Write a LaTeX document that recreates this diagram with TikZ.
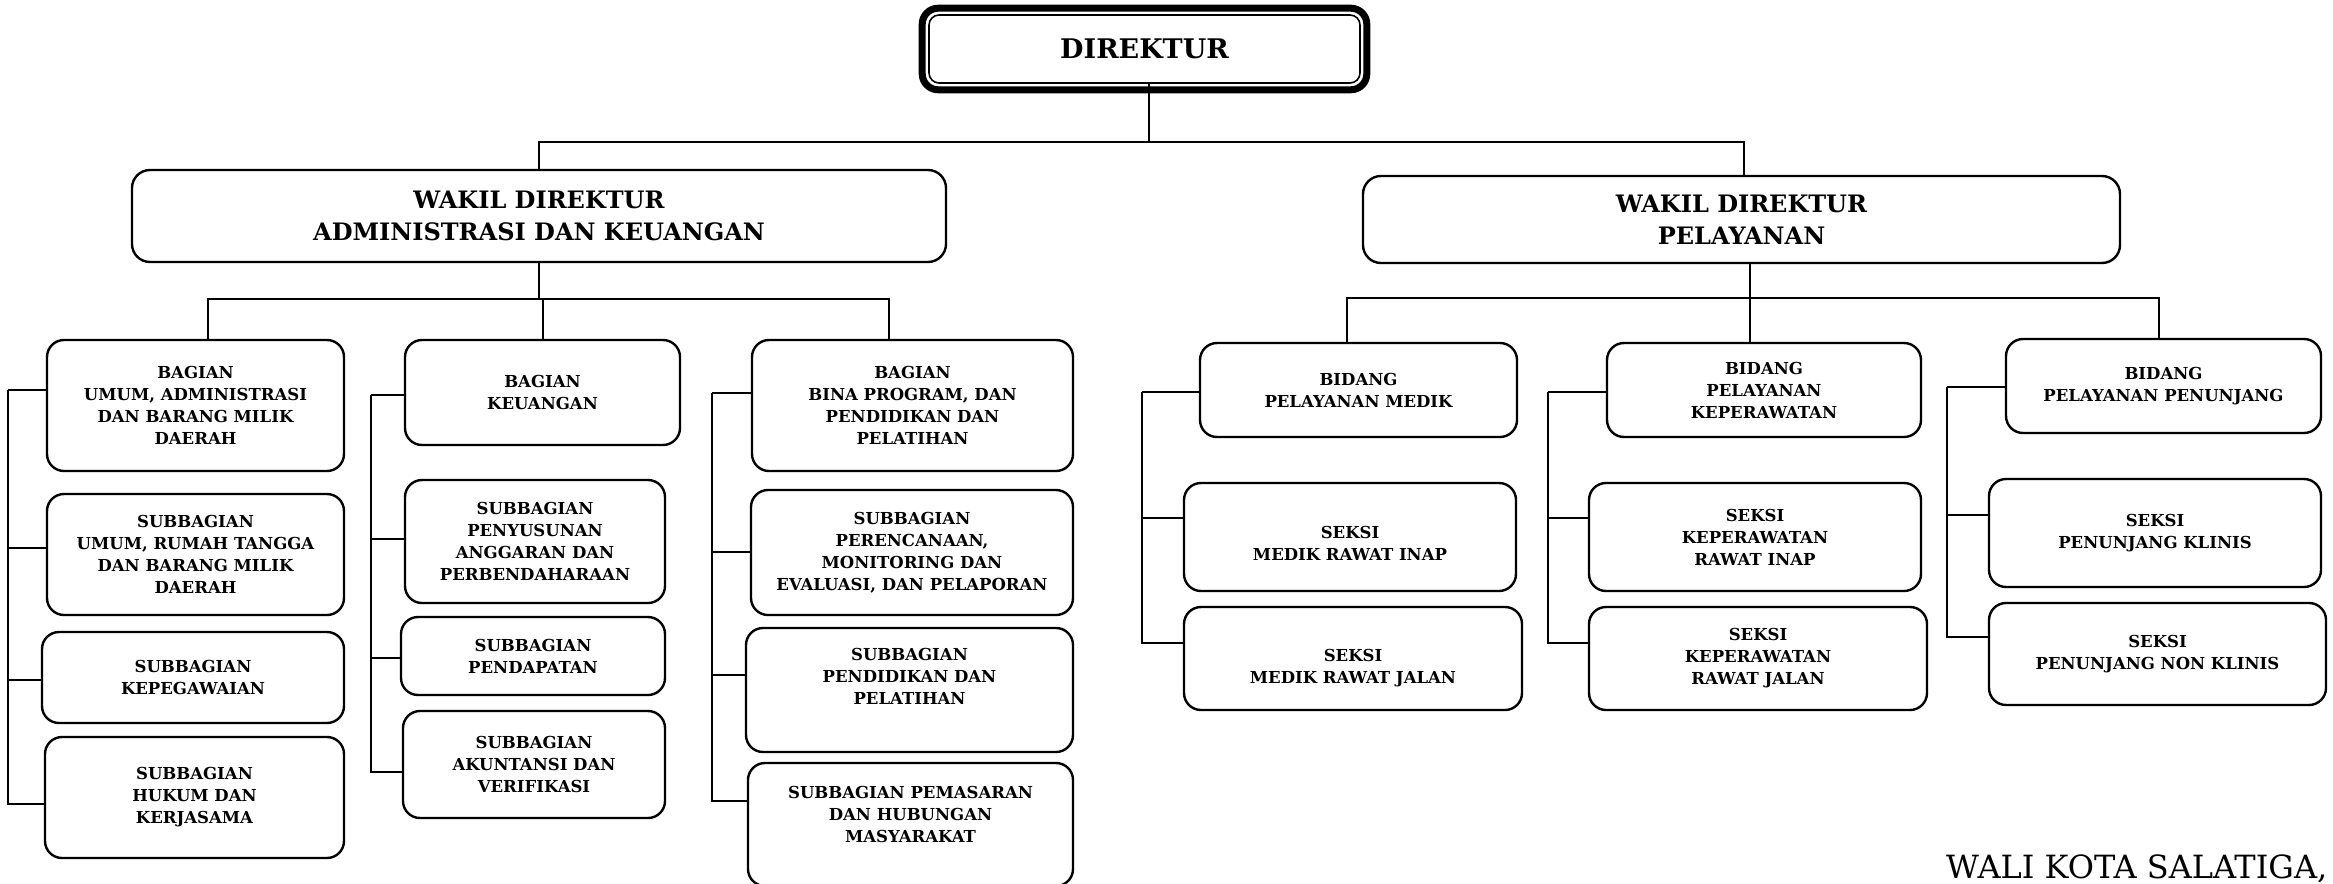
\documentclass[tikz,border=0pt]{standalone}
\usepackage{fontspec}
\setmainfont{DejaVu Serif}
\usepackage{tikz}
\usetikzlibrary{positioning,calc}

\begin{document}
\begin{tikzpicture}[x = 1pt, y = -1pt,
		unit/.style = {draw, line width = 2.4pt, rounded corners = 17pt, align = center, font = \fontsize{16.5}{22}\selectfont\bfseries},
		wakil/.style = {unit, rounded corners = 18pt, font = \fontsize{24}{32}\selectfont\bfseries},
		link/.style = {line width = 2pt}]
		\useasboundingbox (0,0) rectangle (2333,883);
		% pimpinan
		\node [unit, line width = 1.6pt, rounded corners = 10pt, minimum width = 431pt, minimum height = 68pt, font = \fontsize{27}{30}\selectfont\bfseries](direktur) at (1144.5,49) {DIREKTUR};
		\draw [line width = 7pt, rounded corners = 16pt] ([xshift = -6pt, yshift = 6pt]direktur.north west) rectangle ([xshift = 6pt, yshift = -6pt]direktur.south east);
		\node [wakil, minimum width = 814pt, minimum height = 92pt](wadm) at (539,216) {WAKIL DIREKTUR\\ADMINISTRASI DAN KEUANGAN};
		\node [wakil, minimum width = 757pt, minimum height = 87pt](wpel) at (1741.5,219.5) {WAKIL DIREKTUR\\PELAYANAN};
		% administrasi dan keuangan
		\node [unit, minimum width = 297pt, minimum height = 131pt](bumum) at (195.5,405.5) {BAGIAN\\UMUM, ADMINISTRASI\\DAN BARANG MILIK\\DAERAH};
		\node [unit, minimum width = 297pt, minimum height = 121pt](sumum) at (195.5,554.5) {SUBBAGIAN\\UMUM, RUMAH TANGGA\\DAN BARANG MILIK\\DAERAH};
		\node [unit, minimum width = 302pt, minimum height = 91pt](kepeg) at (193,677.5) {SUBBAGIAN\\KEPEGAWAIAN};
		\node [unit, minimum width = 299pt, minimum height = 121pt](hukum) at (194.5,797.5) {SUBBAGIAN\\HUKUM DAN\\KERJASAMA};
		\node [unit, minimum width = 275pt, minimum height = 105pt](keu) at (542.5,392.5) {BAGIAN\\KEUANGAN};
		\node [unit, minimum width = 260pt, minimum height = 123pt](penyus) at (535,541.5) {SUBBAGIAN\\PENYUSUNAN\\ANGGARAN DAN\\PERBENDAHARAAN};
		\node [unit, minimum width = 264pt, minimum height = 78pt](pendap) at (533,656) {SUBBAGIAN\\PENDAPATAN};
		\node [unit, minimum width = 262pt, minimum height = 107pt](akunt) at (534,764.5) {SUBBAGIAN\\AKUNTANSI DAN\\VERIFIKASI};
		\node [unit, minimum width = 321pt, minimum height = 131pt](bina) at (912.5,405.5) {BAGIAN\\BINA PROGRAM, DAN\\PENDIDIKAN DAN\\PELATIHAN};
		\node [unit, minimum width = 322pt, minimum height = 125pt](perenc) at (912,552.5) {SUBBAGIAN\\PERENCANAAN,\\MONITORING DAN\\EVALUASI, DAN PELAPORAN};
		\node [unit, minimum width = 327pt, minimum height = 124pt](pendid) at (909.5,690) {SUBBAGIAN\\PENDIDIKAN DAN\\PELATIHAN\\[5pt]~};
		\node [unit, minimum width = 325pt, minimum height = 123pt](pemas) at (910.5,824.5) {SUBBAGIAN PEMASARAN\\DAN HUBUNGAN\\MASYARAKAT\\[-1pt]~};
		% pelayanan
		\node [unit, minimum width = 317pt, minimum height = 94pt](medik) at (1358.5,390) {BIDANG\\PELAYANAN MEDIK};
		\node [unit, minimum width = 332pt, minimum height = 108pt](mrinap) at (1350,537) {~\\[2pt]SEKSI\\MEDIK RAWAT INAP};
		\node [unit, minimum width = 338pt, minimum height = 103pt](mrjalan) at (1353,658.5) {~\\[10pt]SEKSI\\MEDIK RAWAT JALAN};
		\node [unit, minimum width = 314pt, minimum height = 94pt](kep) at (1764,390) {BIDANG\\PELAYANAN\\KEPERAWATAN};
		\node [unit, minimum width = 332pt, minimum height = 108pt](krinap) at (1755,537) {SEKSI\\KEPERAWATAN\\RAWAT INAP};
		\node [unit, minimum width = 338pt, minimum height = 103pt](krjalan) at (1758,658.5) {SEKSI\\KEPERAWATAN\\RAWAT JALAN};
		\node [unit, minimum width = 315pt, minimum height = 94pt](penunj) at (2163.5,386) {BIDANG\\PELAYANAN PENUNJANG};
		\node [unit, minimum width = 332pt, minimum height = 108pt](klinis) at (2155,533) {SEKSI\\PENUNJANG KLINIS};
		\node [unit, minimum width = 337pt, minimum height = 102pt](nonklinis) at (2157.5,654) {SEKSI\\PENUNJANG NON KLINIS};
		\node [anchor = base west, inner sep = 0pt, font = \fontsize{32}{36}\selectfont](walikota) at (1946,878) {WALI KOTA SALATIGA,};
		% garis utama
		\draw [link] ([xshift = 4pt]direktur.south) -- ++(0,58) coordinate (bus);
		\draw [link] (bus) -| (wadm.north);
		\draw [link] (bus) -| ([xshift = 2pt]wpel.north);
		\draw [link] (wadm.south) -- ++(0,36) coordinate (busa);
		\draw [link] (busa) -| ([xshift = 12pt]bumum.north);
		\draw [link] (busa) -| (keu.north);
		\draw [link] (busa) -| ([xshift = -24pt]bina.north);
		\draw [link] ([xshift = 8pt]wpel.south) -- ++(0,34) coordinate (busb);
		\draw [link] (busb) -| ([xshift = -12pt]medik.north);
		\draw [link] (busb) -| ([xshift = -14pt]kep.north);
		\draw [link] (busb) -| ([xshift = -5pt]penunj.north);
		% garis samping
		\draw [link] ([yshift = 16pt]bumum.west) -- ++(-38,0) coordinate (spa);
		\draw [link] ([yshift = 7pt]sumum.west) -| (spa);
		\draw [link] ([yshift = -2pt]kepeg.west) -| (spa);
		\draw [link] ([yshift = -6pt]hukum.west) -| (spa);
		\draw [link] ([yshift = -2pt]keu.west) -- ++(-33,0) coordinate (spb);
		\draw [link] ([yshift = 3pt]penyus.west) -| (spb);
		\draw [link] ([yshift = -2pt]pendap.west) -| (spb);
		\draw [link] ([yshift = -7pt]akunt.west) -| (spb);
		\draw [link] ([yshift = 13pt]bina.west) -- ++(-39,0) coordinate (spc);
		\draw [link] ([yshift = 1pt]perenc.west) -| (spc);
		\draw [link] ([yshift = 15pt]pendid.west) -| (spc);
		\draw [link] ([yshift = 24pt]pemas.west) -| (spc);
		\draw [link] ([yshift = -2pt]medik.west) -- ++(-57,0) coordinate (spd);
		\draw [link] ([yshift = 19pt]mrinap.west) -| (spd);
		\draw [link] ([yshift = 16pt]mrjalan.west) -| (spd);
		\draw [link] ([yshift = -2pt]kep.west) -- ++(-58,0) coordinate (spe);
		\draw [link] ([yshift = 19pt]krinap.west) -| (spe);
		\draw [link] ([yshift = 16pt]krjalan.west) -| (spe);
		\draw [link] ([yshift = -1pt]penunj.west) -- ++(-58,0) coordinate (spf);
		\draw [link] ([yshift = 18pt]klinis.west) -| (spf);
		\draw [link] ([yshift = 17pt]nonklinis.west) -| (spf);
\end{tikzpicture}
\end{document}
